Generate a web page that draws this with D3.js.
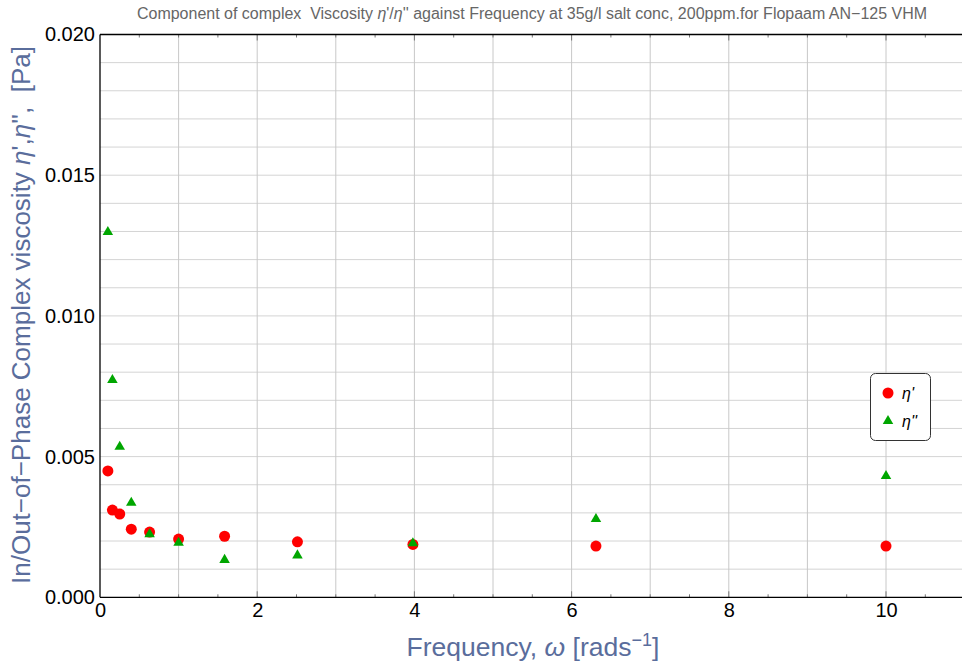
<!DOCTYPE html>
<html>
<head>
<meta charset="utf-8">
<script src="https://cdn.jsdelivr.net/npm/d3@7"></script>
<style>
  html, body { margin: 0; padding: 0; background: #fff; }
  svg { display: block; font-family: "Liberation Sans", Arial, sans-serif; }
</style>
</head>
<body>
<svg id="chart" width="962" height="666"></svg>
<script>
// Angular frequency (rad/s)
const frequency = [0.1, 0.158, 0.251, 0.398, 0.631, 1.0, 1.585, 2.512, 3.981, 6.31, 10.0];
// In-phase component η' (Pa)
const etaPrime = [0.00449, 0.00310, 0.00296, 0.00242, 0.00232, 0.00207, 0.00217, 0.00197, 0.00188, 0.00182, 0.00182];
// Out-of-phase component η'' (Pa)
const etaDoublePrime = [0.01298, 0.00772, 0.00535, 0.00336, 0.00224, 0.00194, 0.00133, 0.00149, 0.00192, 0.00278, 0.00431];

const xTickValues = [0, 2, 4, 6, 8, 10];
const yTickValues = [0, 0.005, 0.010, 0.015, 0.020];

const svg = d3.select("#chart");

const x = d3.scaleLinear().domain([0, 11]).range([100, 100 + 11 * 78.6]);
const y = d3.scaleLinear().domain([0, 0.020]).range([597.3, 34.5]);

const plotLeft = 100, plotRight = 962, plotTop = y(0.020), plotBottom = y(0);

const labelColor = "#5a6d9c";

// grid
const grid = svg.append("g");
grid.selectAll("line.h")
  .data(d3.range(1, 20).map(i => i * 0.001))
  .join("line")
  .attr("x1", plotLeft).attr("x2", plotRight)
  .attr("y1", d => y(d)).attr("y2", d => y(d))
  .attr("stroke", "#d4d4d4").attr("stroke-width", 1);
grid.selectAll("line.v")
  .data(d3.range(1, 11))
  .join("line")
  .attr("x1", d => x(d)).attr("x2", d => x(d))
  .attr("y1", plotTop).attr("y2", plotBottom)
  .attr("stroke", "#c8c8c8").attr("stroke-width", 1);

// axes
const xAxis = d3.axisBottom(x).tickValues(xTickValues).tickFormat(d3.format("d")).tickSize(0).tickPadding(6);
const gx = svg.append("g").attr("transform", `translate(0,${plotBottom})`).call(xAxis);
gx.select(".domain").remove();
gx.selectAll("text").attr("font-size", 20).attr("fill", "#000").attr("font-family", "Liberation Sans, Arial, sans-serif");

const yAxis = d3.axisLeft(y).tickValues(yTickValues).tickFormat(d3.format(".3f")).tickSize(0).tickPadding(5);
const gy = svg.append("g").attr("transform", `translate(${plotLeft},0)`).call(yAxis);
gy.select(".domain").remove();
gy.selectAll("text").attr("font-size", 20).attr("fill", "#000").attr("font-family", "Liberation Sans, Arial, sans-serif");

// frame ticks on bottom and top edges
const minorX = d3.range(0, 22).map(i => i * 0.5).filter(d => d > 0 && d <= 11);
const ticks = svg.append("g").attr("stroke", "#777").attr("stroke-width", 1);
ticks.selectAll("line.b").data(minorX).join("line")
  .attr("x1", d => x(d)).attr("x2", d => x(d))
  .attr("y1", plotBottom).attr("y2", d => plotBottom - (d % 2 === 0 ? 6 : 3));
ticks.selectAll("line.t").data(minorX).join("line")
  .attr("x1", d => x(d)).attr("x2", d => x(d))
  .attr("y1", plotTop).attr("y2", d => plotTop + (d % 2 === 0 ? 6 : 3));

// frame lines
const frame = svg.append("g").attr("stroke", "#000").attr("stroke-width", 1.3);
frame.append("line").attr("x1", plotLeft).attr("x2", plotRight).attr("y1", plotBottom).attr("y2", plotBottom);
frame.append("line").attr("x1", plotLeft).attr("x2", plotRight).attr("y1", plotTop).attr("y2", plotTop);
frame.append("line").attr("x1", plotLeft).attr("x2", plotLeft).attr("y1", plotTop).attr("y2", plotBottom);

// data
const rows = frequency.map((f, i) => ({ f, a: etaPrime[i], b: etaDoublePrime[i] }));
const red = "#ff0000", green = "#00a600";
const tri = d3.symbol().type(d3.symbolTriangle).size(48);

svg.append("g").selectAll("circle").data(rows).join("circle")
  .attr("cx", d => x(d.f)).attr("cy", d => y(d.a)).attr("r", 5.5).attr("fill", red);
svg.append("g").selectAll("path").data(rows).join("path")
  .attr("d", tri)
  .attr("transform", d => `translate(${x(d.f)},${y(d.b)})`)
  .attr("fill", green);

// legend
const lg = svg.append("g").attr("transform", "translate(870,373)");
lg.append("rect").attr("x", 0.5).attr("y", 0.5).attr("width", 60).attr("height", 67)
  .attr("rx", 5).attr("fill", "#fff").attr("stroke", "#333").attr("stroke-width", 1);
lg.append("circle").attr("cx", 18).attr("cy", 20).attr("r", 5.5).attr("fill", red);
lg.append("path").attr("d", tri).attr("transform", "translate(18,48)").attr("fill", green);
lg.append("text").attr("x", 32).attr("y", 26).attr("font-size", 16).attr("font-style", "italic").text("η'");
lg.append("text").attr("x", 32).attr("y", 54).attr("font-size", 16).attr("font-style", "italic").text("η''");

// title
svg.append("text")
  .attr("x", 532).attr("y", 19)
  .attr("text-anchor", "middle")
  .attr("font-size", 16).attr("fill", "#666")
  .attr("textLength", 790).attr("lengthAdjust", "spacingAndGlyphs")
  .html('Component of complex\u00a0\u00a0Viscosity <tspan font-style="italic">η</tspan>\'/<tspan font-style="italic">η</tspan>\'\' against Frequency at 35g/l salt conc, 200ppm.for Flopaam AN\u2212125 VHM');

// x label
svg.append("text")
  .attr("x", 533).attr("y", 656)
  .attr("text-anchor", "middle")
  .attr("font-size", 26.5).attr("fill", labelColor)
  .html('Frequency, <tspan font-style="italic">ω</tspan> [rads<tspan dy="-10" font-size="18">\u22121</tspan><tspan dy="10">]</tspan>');

// y label
svg.append("text")
  .attr("transform", "translate(30,315) rotate(-90)")
  .attr("text-anchor", "middle")
  .attr("font-size", 26).attr("fill", labelColor)
  .html('In/Out\u2212of\u2212Phase Complex viscosity <tspan font-style="italic">η</tspan>\',<tspan font-style="italic">η</tspan>\'\',\u00a0\u00a0[Pa]');
</script>
</body>
</html>
